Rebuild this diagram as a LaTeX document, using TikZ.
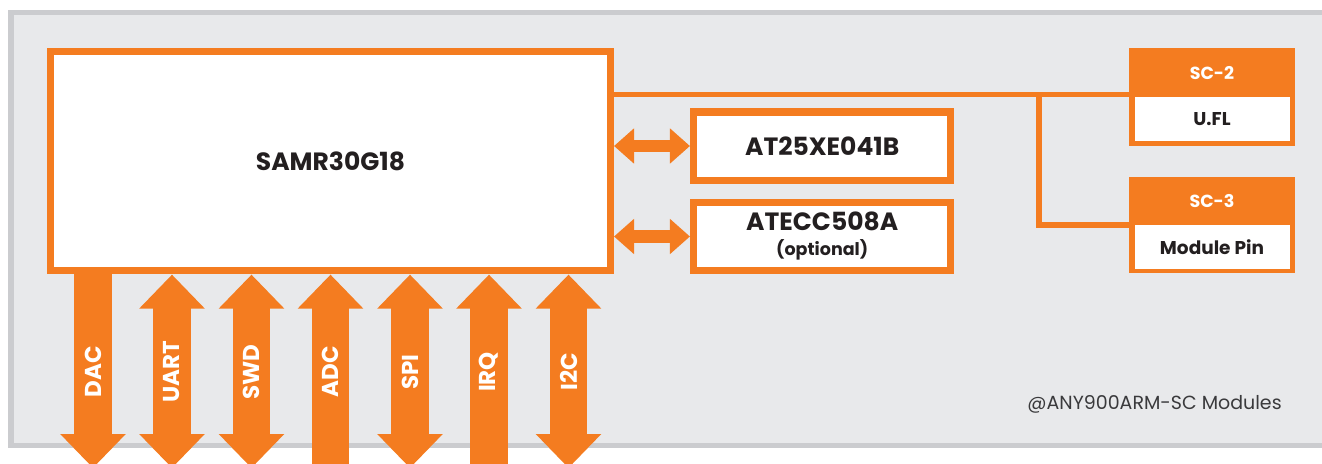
\documentclass[tikz,border=0pt]{standalone}
\usepackage{fontspec}
\setmainfont{Poppins}
\usetikzlibrary{arrows.meta}
\definecolor{orng}{HTML}{F47C20}
\definecolor{panel}{HTML}{E8E9EB}
\definecolor{panelline}{HTML}{CBCCCF}
\definecolor{ink}{HTML}{231F20}
\definecolor{note}{HTML}{3A3A3C}
\begin{document}
\begin{tikzpicture}[x=1pt,y=-1pt,
  chip/.style={draw=orng, fill=white, line width=7.5pt, inner sep=0pt, text=ink, align=center,
    font=\bfseries\fontsize{25}{27}\selectfont},
  mainchip/.style={chip, line width=7pt},
  hdr/.style={fill=orng, inner sep=0pt, text=white, font=\bfseries\fontsize{17.5}{19}\selectfont},
  slot/.style={fill=white, inner sep=0pt, text=ink, font=\bfseries\fontsize{18.5}{20}\selectfont},
  bus/.style={draw=orng, line width=5.5pt},
  side/.style={draw=orng, line width=12.5pt},
  sig/.style={draw=orng, line width=37.5pt},
  lab/.style={text=white, rotate=90, font=\bfseries\fontsize{23}{25}\selectfont, inner sep=0pt}
]
\useasboundingbox (0,0) rectangle (1322,463);
\clip (0,0) rectangle (1322,463);
% panel
\fill[white] (0,0) rectangle (1322,463);
\draw[panelline, line width=5.5pt, fill=panel] (11,12.5) rectangle (1340,445.5);

% bottom signal arrows (drawn first so the chip border covers their roots)
\foreach \n/\x in {dac/93,uart/172,swd/251.5,adc/330.5,spi/410,irq/489,itc/568.5}{
  \coordinate (\n t) at (\x,274.6);
  \coordinate (\n b) at (\x,468);
  \coordinate (\n r) at (\x,271);
  \coordinate (\n e) at (\x,480);
}
\draw[sig, -{Triangle[length=34pt 0 0, width=63.5pt 0 0]}] (dacr) -- (dacb);
\draw[sig, {Triangle[length=34pt 0 0, width=63.5pt 0 0]}-{Triangle[length=34pt 0 0, width=63.5pt 0 0]}] (uartt) -- (uartb);
\draw[sig, {Triangle[length=34pt 0 0, width=63.5pt 0 0]}-{Triangle[length=34pt 0 0, width=63.5pt 0 0]}] (swdt) -- (swdb);
\draw[sig, {Triangle[length=34pt 0 0, width=63.5pt 0 0]}-] (adct) -- (adce);
\draw[sig, {Triangle[length=34pt 0 0, width=63.5pt 0 0]}-{Triangle[length=34pt 0 0, width=63.5pt 0 0]}] (spit) -- (spib);
\draw[sig, {Triangle[length=34pt 0 0, width=63.5pt 0 0]}-] (irqt) -- (irqe);
\draw[sig, {Triangle[length=34pt 0 0, width=63.5pt 0 0]}-{Triangle[length=34pt 0 0, width=63.5pt 0 0]}] (itct) -- (itcb);

\node[lab] (ldac)  at (93,372)    {DAC};
\node[lab] (luart) at (172,372)   {UART};
\node[lab] (lswd)  at (251.5,372) {SWD};
\node[lab] (ladc)  at (330.5,372) {ADC};
\node[lab] (lspi)  at (410,372)   {SPI};
\node[lab] (lirq)  at (489,372)   {IRQ};
\node[lab] (litc)  at (568.5,372) {I2C};

% main chip
\node[mainchip, minimum width=560pt, minimum height=219pt] (samr) at (330.5,161) {SAMR30G18};

% side chips
\node[chip, minimum width=257pt, minimum height=68.5pt] (flash) at (822.2,146) {AT25XE041B};
\node[chip, minimum width=257pt, minimum height=68pt] (ecc) at (822.2,236.5)
  {ATECC508A\\[-2pt]{\fontsize{17.5}{19}\selectfont (optional)}};

\draw[side, {Triangle[length=20pt 0 0, width=34pt 0 0]}-{Triangle[length=20pt 0 0, width=34pt 0 0]}] (samr.east |- flash.west) -- (flash.west);
\draw[side, {Triangle[length=20pt 0 0, width=34pt 0 0]}-{Triangle[length=20pt 0 0, width=34pt 0 0]}] (samr.east |- ecc.west) -- (ecc.west);

% antenna connectors
\node[fill=orng, minimum width=166pt, minimum height=98pt, inner sep=0pt] (sc2) at (1212,97) {};
\node[slot, minimum width=155pt, minimum height=43.5pt] (ufl) at (1212,118.8) {U.FL};
\node[hdr] (sc2h) at (1212,73) {SC-2};

\node[fill=orng, minimum width=166pt, minimum height=96.5pt, inner sep=0pt] (sc3) at (1212,224.9) {};
\node[slot, minimum width=155pt, minimum height=43.5pt] (pin) at (1212,246.8) {Module Pin};
\node[hdr] (sc3h) at (1212,201) {SC-3};

\coordinate (j1) at (1039,94.5);
\draw[bus] (samr.east |- j1) -- (sc2.west |- j1);
\draw[bus] (j1) |- (sc3.west);

\node[text=note, font=\fontsize{19}{21}\selectfont, inner sep=0pt] (credit) at (1154.5,404) {@ANY900ARM-SC Modules};
\end{tikzpicture}
\end{document}
